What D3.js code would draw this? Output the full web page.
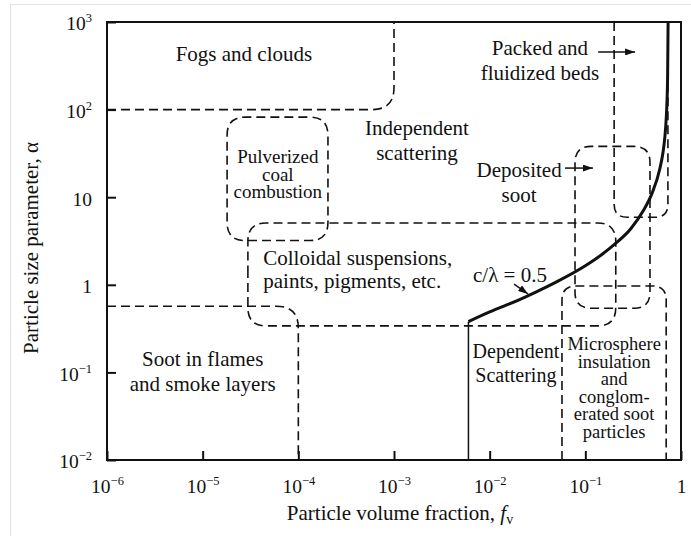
<!DOCTYPE html>
<html>
<head>
<meta charset="utf-8">
<script src="https://cdn.jsdelivr.net/npm/d3@7"></script>
<style>
  body { margin: 0; background: #fff; }
  svg text { font-family: "Liberation Serif", "Times New Roman", serif; fill: #111; }
</style>
</head>
<body>
<svg id="chart" width="691" height="536"></svg>
<script>
// axis ticks
const xTicks = [1e-6, 1e-5, 1e-4, 1e-3, 1e-2, 1e-1, 1];
const yTicks = [1e-2, 1e-1, 1, 10, 1e2, 1e3];

// c/lambda = 0.5 boundary
const curveFv = [0.006, 0.01, 0.02, 0.03, 0.05, 0.1, 0.15, 0.2, 0.3, 0.4, 0.5, 0.6, 0.65, 0.68, 0.7, 0.715, 0.725, 0.733];
const curveAlpha = [0.38, 0.49, 0.67, 0.82, 1.08, 1.65, 2.23, 2.87, 4.4, 6.9, 11.2, 21, 33, 50, 78, 130, 250, 1000];

// regime boundaries as [fv, alpha] corners
const fogsEdge = [[1e-6, 100], [1e-3, 100], [1e-3, 1000]];
const sootEdge = [[1e-6, 0.57], [1e-4, 0.57], [1e-4, 0.01]];
const packedEdge = [[0.2, 1000], [0.2, 5.9], [0.73, 5.9], [0.73, 1000]];
const microEdge = [[0.057, 0.01], [0.057, 0.97], [0.70, 0.97], [0.70, 0.01]];
const dependentEdge = [[0.006, 0.01], [0.006, 0.38]];

// closed boxes: [fv0, fv1, alpha0, alpha1]
const coalBox = [1.8e-5, 2.04e-4, 3.2, 82];
const colloidBox = [2.97e-5, 0.208, 0.34, 5.07];
const depositBox = [0.078, 0.474, 0.54, 38];

const svg = d3.select("#chart");
const mLeft = 107, mRight = 681, mTop = 22, mBottom = 460;

const x = d3.scaleLog().domain([1e-6, 1]).range([mLeft, mRight]);
const y = d3.scaleLog().domain([1e-2, 1e3]).range([mBottom, mTop]);

// faint frame of the scanned figure
svg.append("rect")
  .attr("x", 10.5).attr("y", 4.5).attr("width", 700).attr("height", 560)
  .attr("fill", "none").attr("stroke", "#e2e2e2").attr("stroke-width", 1);

svg.append("defs").append("marker")
  .attr("id", "head")
  .attr("viewBox", "0 0 10 7")
  .attr("refX", 10).attr("refY", 3.5)
  .attr("markerWidth", 10).attr("markerHeight", 7)
  .attr("markerUnits", "userSpaceOnUse")
  .attr("orient", "auto")
  .append("path").attr("d", "M0,0 L10,3.5 L0,7 z").attr("fill", "#111");

function toPx(pts) {
  return pts.map(function (p) { return [x(p[0]), y(p[1])]; });
}

// polyline with rounded corners
function rounded(pts, r, closed) {
  const n = pts.length;
  function corner(a, b, c) {
    const l1 = Math.hypot(b[0] - a[0], b[1] - a[1]);
    const l2 = Math.hypot(c[0] - b[0], c[1] - b[1]);
    const rr = Math.min(r, l1 / 2, l2 / 2);
    const p1 = [b[0] - (b[0] - a[0]) / l1 * rr, b[1] - (b[1] - a[1]) / l1 * rr];
    const p2 = [b[0] + (c[0] - b[0]) / l2 * rr, b[1] + (c[1] - b[1]) / l2 * rr];
    return "L" + p1 + "Q" + b + " " + p2;
  }
  let d;
  if (!closed) {
    d = "M" + pts[0];
    for (let i = 1; i < n - 1; i++) d += corner(pts[i - 1], pts[i], pts[i + 1]);
    d += "L" + pts[n - 1];
  } else {
    const s = [(pts[n - 1][0] + pts[0][0]) / 2, (pts[n - 1][1] + pts[0][1]) / 2];
    d = "M" + s;
    for (let i = 0; i < n; i++) d += corner(pts[(i - 1 + n) % n], pts[i], pts[(i + 1) % n]);
    d += "Z";
  }
  return d;
}

function boxPts(b) {
  return [[b[0], b[3]], [b[1], b[3]], [b[1], b[2]], [b[0], b[2]]];
}

const dashed = svg.append("g")
  .attr("fill", "none").attr("stroke", "#111")
  .attr("stroke-width", 1.6).attr("stroke-dasharray", "9,5");

dashed.append("path").attr("d", rounded(toPx(fogsEdge), 22, false));
dashed.append("path").attr("d", rounded(toPx(sootEdge), 22, false));
dashed.append("path").attr("d", rounded(toPx(packedEdge), 13, false));
dashed.append("path").attr("d", rounded(toPx(microEdge), 14, false));
dashed.append("path").attr("d", rounded(toPx(boxPts(coalBox)), 18, true));
dashed.append("path").attr("d", rounded(toPx(boxPts(colloidBox)), 18, true));
dashed.append("path").attr("d", rounded(toPx(boxPts(depositBox)), 16, true));

// dependent scattering boundary
svg.append("path")
  .attr("d", d3.line()(toPx(dependentEdge)))
  .attr("fill", "none").attr("stroke", "#111").attr("stroke-width", 1.5);

const curve = curveFv.map(function (f, i) { return [f, curveAlpha[i]]; });
svg.append("path")
  .attr("d", d3.line().x(function (d) { return x(d[0]); }).y(function (d) { return y(d[1]); })
    .curve(d3.curveMonotoneX)(curve))
  .attr("fill", "none").attr("stroke", "#111").attr("stroke-width", 3);

// frame
svg.append("rect")
  .attr("x", mLeft).attr("y", mTop).attr("width", mRight - mLeft).attr("height", mBottom - mTop)
  .attr("fill", "none").attr("stroke", "#111").attr("stroke-width", 2);

function expLabel(sel, v) {
  const e = Math.round(Math.log10(v));
  sel.text(null);
  if (e === 0) { sel.text("1"); return; }
  if (e === 1) { sel.text("10"); return; }
  sel.append("tspan").text("10");
  sel.append("tspan").attr("dy", -8).attr("font-size", 12.5)
    .text(e < 0 ? "\u2212" + (-e) : String(e));
}

const xAxis = svg.append("g")
  .attr("transform", "translate(0," + mBottom + ")")
  .call(d3.axisBottom(x).tickValues(xTicks).tickSizeInner(-9).tickSizeOuter(0).tickPadding(27));
xAxis.select(".domain").remove();
xAxis.selectAll("line").attr("stroke", "#111").attr("stroke-width", 2);
xAxis.selectAll("text")
  .attr("font-size", 19.5).attr("font-family", "Liberation Serif").attr("fill", "#111")
  .attr("dy", "0.3em")
  .each(function (d) { expLabel(d3.select(this), d); });

const yAxis = svg.append("g")
  .attr("transform", "translate(" + mLeft + ",0)")
  .call(d3.axisLeft(y).tickValues(yTicks).tickSizeInner(-9).tickSizeOuter(0).tickPadding(15));
yAxis.select(".domain").remove();
yAxis.selectAll("line").attr("stroke", "#111").attr("stroke-width", 2);
yAxis.selectAll("text")
  .attr("font-size", 19.5).attr("font-family", "Liberation Serif").attr("fill", "#111")
  .attr("dy", "0.4em")
  .each(function (d) { expLabel(d3.select(this), d); });

// axis titles
const xt = svg.append("text")
  .attr("x", 400).attr("y", 520).attr("text-anchor", "middle").attr("font-size", 21);
xt.append("tspan").text("Particle volume fraction, ");
xt.append("tspan").attr("font-style", "italic").text("f");
xt.append("tspan").attr("font-size", 14).attr("dy", 4).text("v");

svg.append("text")
  .attr("transform", "translate(38,248) rotate(-90)")
  .attr("text-anchor", "middle").attr("font-size", 21)
  .text("Particle size parameter, \u03b1");

// region labels
const notes = [
  { lines: ["Fogs and clouds"], fv: 2.7e-5, a: 359, anchor: "middle", lh: 25, fs: 21 },
  { lines: ["Independent", "scattering"], fv: 1.74e-3, a: 51, anchor: "middle", lh: 25, fs: 21 },
  { lines: ["Pulverized", "coal", "combustion"], fv: 6.1e-5, a: 24.5, anchor: "middle", lh: 17.5, fs: 19 },
  { lines: ["Colloidal suspensions,", "paints, pigments, etc."], fv: 4.3e-5, a: 1.68, anchor: "start", lh: 23, fs: 21 },
  { lines: ["Soot in flames", "and smoke layers"], fv: 1.0e-5, a: 0.118, anchor: "middle", lh: 25, fs: 21 },
  { lines: ["Dependent", "Scattering"], fv: 0.0188, a: 0.146, anchor: "middle", lh: 24, fs: 20 },
  { lines: ["Microsphere", "insulation", "and", "conglom-", "erated soot", "particles"], fv: 0.2, a: 0.18, anchor: "middle", lh: 17.6, fs: 18.5 },
  { lines: ["Packed and", "fluidized beds"], fv: 0.0335, a: 420, anchor: "middle", lh: 25, fs: 21 },
  { lines: ["Deposited", "soot"], fv: 0.0203, a: 17, anchor: "middle", lh: 25, fs: 21 },
  { lines: ["c/\u03bb = 0.5"], fv: 6.7e-3, a: 1.08, anchor: "start", lh: 0, fs: 21 }
];

notes.forEach(function (n) {
  const t = svg.append("text")
    .attr("x", x(n.fv)).attr("y", y(n.a))
    .attr("text-anchor", n.anchor).attr("font-size", n.fs);
  n.lines.forEach(function (s, i) {
    t.append("tspan").attr("x", x(n.fv)).attr("dy", i === 0 ? 0 : n.lh).text(s);
  });
});

// pointer arrows
const arrows = [
  [[0.136, 455], [0.331, 455]],
  [[0.0613, 21.5], [0.12, 21.5]],
  [[0.018, 1.02], [0.0252, 0.785]]
];
arrows.forEach(function (a) {
  svg.append("path")
    .attr("d", d3.line()(toPx(a)))
    .attr("stroke", "#111").attr("stroke-width", 1.5).attr("fill", "none")
    .attr("marker-end", "url(#head)");
});
</script>
</body>
</html>
